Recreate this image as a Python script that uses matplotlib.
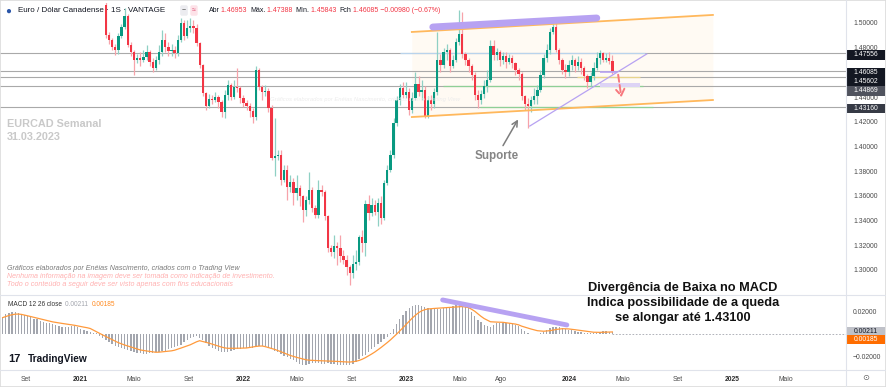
import matplotlib
matplotlib.use("Agg")
import matplotlib.pyplot as plt
from matplotlib.lines import Line2D
from matplotlib.patches import Rectangle
import numpy as np
import pandas as pd

plt.rcParams['font.family'] = ['Liberation Sans', 'DejaVu Sans']

W, H = 886, 387

# ---- weekly EURCAD candles ----
first_open = 1.5146
close = [
    1.4902, 1.4862, 1.4805, 1.4781, 1.4894, 1.4967, 1.5056, 1.4822, 1.4765, 1.4700,
    1.4716, 1.4700, 1.4724, 1.4765, 1.4684, 1.4635, 1.4700, 1.4765, 1.4862, 1.4805,
    1.4773, 1.4781, 1.4757, 1.4862, 1.5000, 1.4894, 1.4959, 1.4975, 1.4959, 1.4838,
    1.4660, 1.4433, 1.4327, 1.4384, 1.4376, 1.4400, 1.4360, 1.4279, 1.4417, 1.4498,
    1.4400, 1.4481, 1.4473, 1.4392, 1.4352, 1.4327, 1.4287, 1.4238, 1.4619, 1.4481,
    1.4441, 1.4449, 1.4311, 1.3906, 1.3922, 1.3931, 1.3728, 1.3809, 1.3671, 1.3712,
    1.3623, 1.3663, 1.3598, 1.3485, 1.3566, 1.3647, 1.3501, 1.3445, 1.3647, 1.3631,
    1.3436, 1.3177, 1.3145, 1.3193, 1.3177, 1.3112, 1.3080, 1.3023, 1.2975, 1.3048,
    1.3064, 1.3266, 1.3218, 1.3534, 1.3461, 1.3526, 1.3469, 1.3542, 1.3420, 1.3704,
    1.3809, 1.3931, 1.4190, 1.4376, 1.4473, 1.4417, 1.4441, 1.4295, 1.4392, 1.4506,
    1.4441, 1.4457, 1.4246, 1.4376, 1.4344, 1.4441, 1.4700, 1.4660, 1.4765, 1.4781,
    1.4651, 1.4700, 1.4846, 1.4911, 1.4749, 1.4700, 1.4651, 1.4579, 1.4417, 1.4376,
    1.4425, 1.4489, 1.4538, 1.4813, 1.4741, 1.4765, 1.4700, 1.4732, 1.4684, 1.4716,
    1.4676, 1.4619, 1.4587, 1.4408, 1.4344, 1.4327, 1.4376, 1.4408, 1.4457, 1.4579,
    1.4716, 1.4781, 1.4927, 1.4967, 1.4781, 1.4700, 1.4619, 1.4603, 1.4660, 1.4700,
    1.4651, 1.4684, 1.4635, 1.4570, 1.4522, 1.4570, 1.4635, 1.4716, 1.4757, 1.4700,
    1.4716, 1.4695, 1.46085,
]
high = [
    1.5230, 1.4927, 1.4878, 1.4830, 1.4919, 1.4992, 1.5121, 1.5073, 1.4846, 1.4781,
    1.4749, 1.4765, 1.4781, 1.4822, 1.4781, 1.4716, 1.4732, 1.4822, 1.4943, 1.4919,
    1.4846, 1.4830, 1.4813, 1.4902, 1.5040, 1.5024, 1.5024, 1.5040, 1.5024, 1.4992,
    1.4846, 1.4668, 1.4441, 1.4425, 1.4417, 1.4441, 1.4417, 1.4376, 1.4457, 1.4538,
    1.4514, 1.4538, 1.4635, 1.4489, 1.4417, 1.4376, 1.4352, 1.4311, 1.4651, 1.4635,
    1.4498, 1.4498, 1.4473, 1.4336, 1.4230, 1.3971, 1.3971, 1.3849, 1.3849, 1.3768,
    1.3744, 1.3768, 1.3690, 1.3607, 1.3598, 1.3793, 1.3671, 1.3526, 1.3728, 1.3688,
    1.3647, 1.3445, 1.3202, 1.3283, 1.3226, 1.3283, 1.3161, 1.3121, 1.3040, 1.3121,
    1.3161, 1.3283, 1.3323, 1.3566, 1.3607, 1.3582, 1.3566, 1.3582, 1.3598, 1.3728,
    1.3849, 1.3971, 1.4230, 1.4408, 1.4506, 1.4522, 1.4522, 1.4473, 1.4441, 1.4603,
    1.4570, 1.4538, 1.4489, 1.4408, 1.4417, 1.4473, 1.4927, 1.4749, 1.4797, 1.4830,
    1.4797, 1.4741, 1.4878, 1.5105, 1.5089, 1.4765, 1.4716, 1.4668, 1.4603, 1.4457,
    1.4457, 1.4538, 1.4619, 1.4862, 1.4862, 1.4797, 1.4781, 1.4765, 1.4765, 1.4749,
    1.4741, 1.4684, 1.4635, 1.4603, 1.4417, 1.4392, 1.4408, 1.4473, 1.4498, 1.4619,
    1.4749, 1.4830, 1.4959, 1.5040, 1.5008, 1.4797, 1.4716, 1.4668, 1.4700, 1.4741,
    1.4716, 1.4732, 1.4716, 1.4651, 1.4587, 1.4603, 1.4684, 1.4765, 1.4781, 1.4765,
    1.4757, 1.4765, 1.47388,
]
low = [
    1.4878, 1.4830, 1.4781, 1.4741, 1.4749, 1.4878, 1.4951, 1.4805, 1.4732, 1.4579,
    1.4676, 1.4651, 1.4684, 1.4700, 1.4651, 1.4603, 1.4619, 1.4668, 1.4732, 1.4765,
    1.4732, 1.4732, 1.4716, 1.4732, 1.4846, 1.4862, 1.4878, 1.4927, 1.4919, 1.4813,
    1.4635, 1.4408, 1.4295, 1.4311, 1.4344, 1.4360, 1.4311, 1.4238, 1.4230, 1.4376,
    1.4376, 1.4384, 1.4441, 1.4352, 1.4319, 1.4295, 1.4238, 1.4190, 1.4214, 1.4457,
    1.4376, 1.4408, 1.4279, 1.3890, 1.3760, 1.3890, 1.3688, 1.3712, 1.3566, 1.3631,
    1.3526, 1.3566, 1.3517, 1.3388, 1.3436, 1.3534, 1.3469, 1.3420, 1.3420, 1.3598,
    1.3404, 1.3145, 1.3112, 1.3096, 1.3040, 1.3064, 1.3048, 1.2959, 1.2878, 1.2934,
    1.2999, 1.3040, 1.3145, 1.3112, 1.3404, 1.3436, 1.3445, 1.3355, 1.3372, 1.3404,
    1.3688, 1.3793, 1.3906, 1.4165, 1.4336, 1.4392, 1.4392, 1.4255, 1.4271, 1.4376,
    1.4408, 1.4376, 1.4230, 1.4230, 1.4295, 1.4311, 1.4417, 1.4603, 1.4635, 1.4700,
    1.4603, 1.4635, 1.4684, 1.4822, 1.4716, 1.4660, 1.4603, 1.4538, 1.4376, 1.4311,
    1.4344, 1.4392, 1.4441, 1.4522, 1.4700, 1.4700, 1.4651, 1.4668, 1.4635, 1.4668,
    1.4635, 1.4579, 1.4538, 1.4376, 1.4295, 1.4149, 1.4279, 1.4344, 1.4344, 1.4441,
    1.4554, 1.4684, 1.4749, 1.4911, 1.4765, 1.4668, 1.4587, 1.4554, 1.4570, 1.4619,
    1.4603, 1.4619, 1.4587, 1.4538, 1.4473, 1.4489, 1.4538, 1.4619, 1.4668, 1.4684,
    1.4684, 1.4668, 1.45843,
]
candle_dates = pd.date_range("2021-02-28", periods=len(close), freq="7D")

# ---- MACD 12 26 close (in thousandths) ----
macd_k = [
    15.7, 17.8, 19.5, 20.2, 20.0, 19.3, 18.3, 17.4, 16.5, 15.4,
    14.0, 13.2, 12.0, 11.1, 10.4, 9.7, 8.8, 8.0, 7.4, 6.8,
    6.3, 5.9, 7.0, 7.2, 6.5, 4.6, 3.4, 2.8, 2.0, 1.1,
    0.6, -1.7, -3.9, -5.9, -7.6, -9.2, -10.6, -11.8, -12.9, -13.9,
    -14.8, -15.6, -16.3, -17.0, -17.5, -17.8, -18.1, -17.7, -17.1, -16.8,
    -16.3, -15.7, -15.0, -13.9, -12.8, -11.7, -10.6, -9.6, -7.4, -5.6,
    -3.8, -2.6, -1.9, -3.2, -5.8, -8.5, -10.5, -12.7, -14.0, -15.6,
    -16.2, -16.3, -16.0, -15.3, -14.7, -14.0, -13.5, -13.0, -12.5, -13.0,
    -12.4, -12.0, -10.8, -10.6, -11.0, -12.2, -13.9, -15.5, -16.8, -18.3,
    -19.9, -21.0, -22.6, -24.0, -25.3, -26.9, -27.9, -27.9, -27.0, -26.5,
    -25.9, -26.2, -26.8, -27.0, -26.6, -27.0, -27.5, -28.0, -28.5, -28.5,
    -28.4, -27.9, -27.1, -25.4, -23.0, -20.3, -18.8, -16.2, -13.8, -11.6,
    -9.4, -7.2, -5.0, -2.4, 1.0, 4.8, 9.0, 13.8, 17.6, 20.8,
    23.4, 25.2, 26.0, 26.1, 25.8, 24.9, 23.5, 22.6, 22.5, 22.7,
    23.0, 23.4, 23.6, 24.9, 25.5, 26.0, 26.1, 26.3, 25.6, 23.4,
    20.0, 16.6, 13.0, 10.5, 8.6, 7.1, 6.4, 8.2, 9.6, 9.7,
    9.7, 10.2, 9.9, 9.3, 8.6, 7.3, 4.8, 2.6, 0.8, -0.1,
    -0.3, 0.0, 0.7, 2.2, 3.5, 5.1, 6.7, 6.7, 6.3, 5.4,
    4.6, 3.9, 3.3, 2.8, 2.2, 1.6, 1.0, 0.6, 0.6, 0.7,
    1.2, 1.8, 2.4, 2.4, 2.2, 2.11,
]
signal_k = [
    14.9, 15.9, 16.8, 17.5, 18.0, 18.1, 17.8, 17.2, 16.5, 15.8,
    15.1, 14.4, 13.7, 13.1, 12.2, 11.6, 11.0, 10.5, 10.0, 9.6,
    9.2, 8.8, 8.4, 7.9, 7.3, 6.8, 6.2, 5.7, 5.0, 3.5,
    2.0, 0.6, -0.9, -2.3, -3.7, -5.1, -6.5, -7.9, -9.0, -10.0,
    -10.9, -11.9, -12.8, -13.7, -14.5, -15.0, -15.4, -15.8, -16.2, -16.6,
    -16.5, -16.2, -15.9, -15.6, -15.3, -14.7, -13.8, -12.8, -11.8, -10.9,
    -9.8, -8.4, -7.1, -6.1, -6.8, -7.6, -8.3, -9.2, -10.2, -11.1,
    -11.9, -12.6, -13.0, -13.0, -13.0, -12.9, -12.9, -12.8, -12.7, -12.2,
    -11.7, -11.3, -11.0, -10.9, -11.5, -12.3, -13.0, -14.0, -15.0, -16.1,
    -17.3, -18.4, -19.5, -20.4, -21.2, -22.0, -22.7, -23.4, -23.8, -24.0,
    -24.1, -24.2, -24.2, -24.3, -24.4, -24.5, -24.6, -24.9, -25.1, -25.3,
    -25.4, -25.5, -25.2, -24.8, -24.0, -22.9, -21.5, -19.9, -18.2, -16.4,
    -14.4, -12.3, -10.1, -7.8, -5.4, -2.8, -0.1, 2.7, 5.6, 8.6,
    11.6, 14.5, 17.0, 19.3, 21.0, 22.1, 22.7, 23.0, 23.2, 23.4,
    23.6, 23.9, 24.0, 24.2, 24.4, 24.6, 24.7, 24.9, 24.5, 24.0,
    22.4, 20.6, 18.3, 16.0, 14.0, 12.6, 11.1, 10.9, 10.8, 10.7,
    10.6, 10.2, 9.8, 9.4, 9.0, 8.3, 7.1, 6.2, 5.3, 4.5,
    3.7, 3.0, 2.7, 2.5, 2.7, 3.0, 3.6, 4.1, 4.4, 4.8,
    4.7, 4.6, 4.3, 3.9, 3.5, 3.0, 2.6, 2.2, 1.8, 1.6,
    1.5, 1.5, 1.6, 1.7, 1.8, 1.85,
]
macd_dates = pd.date_range("2020-07-12", periods=len(macd_k), freq="7D")

# ---- drawings on the chart ----
price_lines = [1.47556, 1.46085, 1.45602, 1.44869, 1.43160]
channel_x = ["2023-01-14", "2024-11-18"]
channel_upper = [1.4927, 1.5065]
channel_lower = [1.4238, 1.4376]
top_mark_x = ["2023-03-02", "2024-03-03"]
top_mark_y = [1.4967, 1.5040]
trend_x = ["2023-10-05", "2024-06-23"]
trend_y = [1.4165, 1.4749]
macd_div_x = ["2023-03-24", "2023-12-27"]
macd_div_y = [0.0309, 0.0082]

tick_dates = ["2020-09-01", "2021-01-01", "2021-05-01", "2021-09-01", "2022-01-01",
              "2022-05-01", "2022-09-01", "2023-01-01", "2023-05-01", "2023-08-01",
              "2024-01-01", "2024-05-01", "2024-09-01", "2025-01-01", "2025-05-01"]
tick_labels = ["Set", "2021", "Maio", "Set", "2022", "Maio", "Set", "2023", "Maio", "Ago",
               "2024", "Maio", "Set", "2025", "Maio"]

UP, DOWN = "#089981", "#f23645"
UP_W, DOWN_W = "#8fd0c4", "#f7a3aa"
ORANGE = "#ffb85c"
LAV = "#b7a2f2"


def px(x, y):
    return x / W, 1 - y / H


fig = plt.figure(figsize=(W / 100, H / 100), dpi=100)
ax = fig.add_axes([0, 1 - 294 / H, 846 / W, 291 / H])
ax2 = fig.add_axes([0, 1 - 370 / H, 846 / W, 74 / H])

d = lambda s: pd.Timestamp(s)
xmin, xmax = d("2020-07-06"), d("2025-09-12")

# candles
opens = np.array([first_open] + close[:-1])
cl = np.array(close)
up = cl >= opens
body_lo = np.minimum(opens, cl)
body_h = np.maximum(np.abs(cl - opens), 0.0004)
ax.vlines(candle_dates, low, high, colors=np.where(up, UP_W, DOWN_W), lw=0.9, zorder=3)
ax.bar(candle_dates, body_h, bottom=body_lo, width=5.2,
       color=np.where(up, UP, DOWN), zorder=4, linewidth=0)

# channel + levels
cx = [d(s) for s in channel_x]
ax.fill_between(cx, channel_lower, channel_upper, color="#fffaf3", zorder=0, lw=0)
ax.plot(cx, channel_upper, color=ORANGE, lw=1.3, zorder=5)
ax.plot(cx, channel_lower, color=ORANGE, lw=1.3, zorder=5)
ax.plot([d(s) for s in top_mark_x], top_mark_y, color=LAV, lw=5,
        solid_capstyle="round", zorder=6)
for p in price_lines:
    ax.axhline(p, color="#a9a9a9", lw=0.8, zorder=1)
ax.hlines(1.47556, d("2022-12-18"), d("2024-06-18"), color="#b9d3ec", lw=0.9, zorder=2)
ax.hlines(1.44869, d("2023-03-24"), d("2024-06-14"), color="#8fcf96", lw=0.9, zorder=2)
ax.hlines(1.43160, d("2023-06-15"), d("2024-07-07"), color="#8fcf96", lw=0.9, zorder=2)
ax.hlines(1.45602, d("2024-01-19"), d("2024-06-08"), color="#e7d48c", lw=0.9, zorder=2)
ax.hlines(1.46030, d("2024-03-10"), d("2024-04-17"), color=LAV, lw=1.2, zorder=5)
ax.fill_between([d("2024-03-10"), d("2024-06-08")], 1.4481, 1.4514, color="#ddd3f5", lw=0, zorder=2)
ax.plot([d(s) for s in trend_x], trend_y, color=LAV, lw=0.9, zorder=5)
ax.annotate("", xy=(d("2024-04-28"), 1.4376), xytext=(d("2024-04-19"), 1.4603),
            arrowprops=dict(arrowstyle="->,head_length=0.45,head_width=0.3",
                            color="#f7787e", lw=1.4, linestyle="--"), zorder=7)
ax.annotate("", xy=(d("2023-09-12"), 1.4238), xytext=(d("2023-08-03"), 1.3987),
            arrowprops=dict(arrowstyle="->", color="#7d7d7d", lw=1.1), zorder=7)

ax.set_xlim(xmin, xmax)
ax.set_ylim(1.28046, 1.51617)
ax.yaxis.tick_right()
ax.set_yticks(np.arange(1.30, 1.5001, 0.02))
ax.set_yticklabels([f"{v:.5f}" for v in np.arange(1.30, 1.5001, 0.02)])
ax.tick_params(axis="y", length=0, pad=5, labelsize=4.9, labelcolor="#4a4a4a")
ax.set_xticks([])
for s in ax.spines.values():
    s.set_visible(False)

# MACD pane
mk = np.array(macd_k) / 1000
sg = np.array(signal_k) / 1000
ax2.bar(macd_dates, mk, width=2.9, color="#a3a6ae", lw=0, zorder=2)
ax2.plot(macd_dates, sg, color="#ff9a3c", lw=0.9, zorder=3)
ax2.hlines(0.0, macd_dates[-1], xmax, color="#a3a6ae", lw=0.6, linestyles=(0, (2, 2)))
ax2.plot([d(s) for s in macd_div_x], macd_div_y, color=LAV, lw=3.5,
         solid_capstyle="round", zorder=4)
ax2.set_xlim(xmin, xmax)
ax2.set_ylim(-0.0327, 0.0345)
ax2.yaxis.tick_right()
ax2.set_yticks([0.02, -0.02])
ax2.set_yticklabels(["0.02000", "\u22120.02000"])
ax2.tick_params(axis="y", length=0, pad=5, labelsize=4.9, labelcolor="#4a4a4a")
ax2.set_xticks([d(s) for s in tick_dates])
ax2.set_xticklabels(tick_labels)
ax2.tick_params(axis="x", length=0, pad=4, labelsize=4.9, labelcolor="#4a4a4a")
for lab in ax2.get_xticklabels():
    if lab.get_text().isdigit():
        lab.set_fontweight("bold")
        lab.set_color("#2a2a2a")
for s in ax2.spines.values():
    s.set_visible(False)

# frame / separators
for (x0, y0, x1, y1) in [(846, 0, 846, H), (0, 295, W, 295), (0, 370, W, 370)]:
    fig.add_artist(Line2D([x0 / W, x1 / W], [1 - y0 / H, 1 - y1 / H],
                          color="#e0e3eb", lw=0.8))
fig.add_artist(Rectangle((0, 0), 1, 1, transform=fig.transFigure, fill=False,
                         ec="#dcdcdc", lw=1.2))

# price-axis label boxes
boxes = [("1.47556", 55, "#131722", "white"), ("1.46085", 72.5, "#131722", "white"),
         ("1.45602", 81.5, "#131722", "white"), ("1.44869", 91, "#50535e", "white"),
         ("1.43160", 108.3, "#363a45", "white"), ("0.00211", 331.5, "#bfc1c8", "#131722"),
         ("0.00185", 339.5, "#ff6d00", "white")]
for txt, yy, bg, fg in boxes:
    fig.add_artist(Rectangle((847 / W, 1 - (yy + 4.5) / H), 38 / W, 9 / H,
                             transform=fig.transFigure, color=bg, lw=0))
    fig.text(*px(866, yy), txt, ha="center", va="center", color=fg, fontsize=4.9)

# header
fig.text(*px(8, 10.5), "\u25cf", color="#2a55a8", fontsize=7, ha="center", va="center")
fig.text(*px(18, 10.5), "Euro / Dólar Canadense \u00b7 1S \u00b7 VANTAGE", color="#131722",
         fontsize=5.8, va="center")
fig.text(*px(184, 10.5), "\u2212", color="#555", fontsize=5, va="center", ha="center",
         bbox=dict(boxstyle="round,pad=0.25", fc="#ececf0", ec="none"))
fig.text(*px(194, 10.5), "\u2248", color="#e0567a", fontsize=5, va="center", ha="center",
         bbox=dict(boxstyle="round,pad=0.25", fc="#fde2e8", ec="none"))
prev = fig.text(*px(209, 10.5), "Abr", color="#131722", fontsize=5, va="center")
for txt, col in [("1.46953 ", DOWN), ("Máx.", "#131722"), ("1.47388 ", DOWN),
                 ("Mín.", "#131722"), ("1.45843 ", DOWN), ("Fch", "#131722"),
                 ("1.46085 \u22120.00980 (\u22120.67%)", DOWN)]:
    prev = ax.annotate(txt, xy=(1, 0.5), xycoords=prev, xytext=(1, 0),
                       textcoords="offset points", va="center", ha="left",
                       color=col, fontsize=5, annotation_clip=False)

# watermark texts
fig.text(*px(7, 124), "EURCAD Semanal", color="#c9c9c9", fontsize=7.8,
         fontweight="bold", va="center")
fig.text(*px(7, 137), "31.03.2023", color="#c9c9c9", fontsize=7.8,
         fontweight="bold", va="center")
fig.text(*px(270, 100), "Gráficos elaborados por Enéias Nascimento, criados com o Trading View",
         color="#ececec", fontsize=4.2, style="italic", va="center", zorder=0)
fig.text(*px(7, 268), "Gráficos elaborados por Enéias Nascimento, criados com o Trading View",
         color="#7a7a7a", fontsize=5.1, style="italic", va="center")
fig.text(*px(7, 276.5), "Nenhuma informação na imagem deve ser tomada como indicação de investimento.",
         color="#ffb0b0", fontsize=5.1, style="italic", va="center")
fig.text(*px(7, 284), "Todo o conteúdo a seguir deve ser visto apenas com fins educacionais",
         color="#ffb0b0", fontsize=5.1, style="italic", va="center")

fig.text(*px(497, 156), "Suporte", color="#858585", fontsize=8.4, fontweight="bold",
         ha="center", va="center")
fig.text(*px(683, 303), "Divergência de Baixa no MACD\nIndica possibilidade de a queda\n"
         "se alongar até 1.43100", color="#111111", fontsize=9.2, fontweight="bold",
         ha="center", va="center", linespacing=1.32)

# MACD legend + logo
prev = fig.text(*px(8, 305), "MACD 12 26 close ", color="#333", fontsize=4.7, va="center")
prev = ax2.annotate("0.00211 ", xy=(1, 0.5), xycoords=prev, xytext=(1, 0),
                    textcoords="offset points", va="center", color="#a3a6ae",
                    fontsize=4.7, annotation_clip=False)
ax2.annotate("0.00185", xy=(1, 0.5), xycoords=prev, xytext=(1, 0),
             textcoords="offset points", va="center", color="#ff8a1f",
             fontsize=4.7, annotation_clip=False)
fig.text(*px(8, 359), "17", color="#131722", fontsize=8, fontweight="bold", va="center")
fig.text(*px(28, 359), "TradingView", color="#131722", fontsize=7.3, fontweight="bold",
         va="center")
fig.text(*px(866, 379), "\u2299", color="#666", fontsize=6, ha="center", va="center")

fig.savefig("out.png", dpi=100)
